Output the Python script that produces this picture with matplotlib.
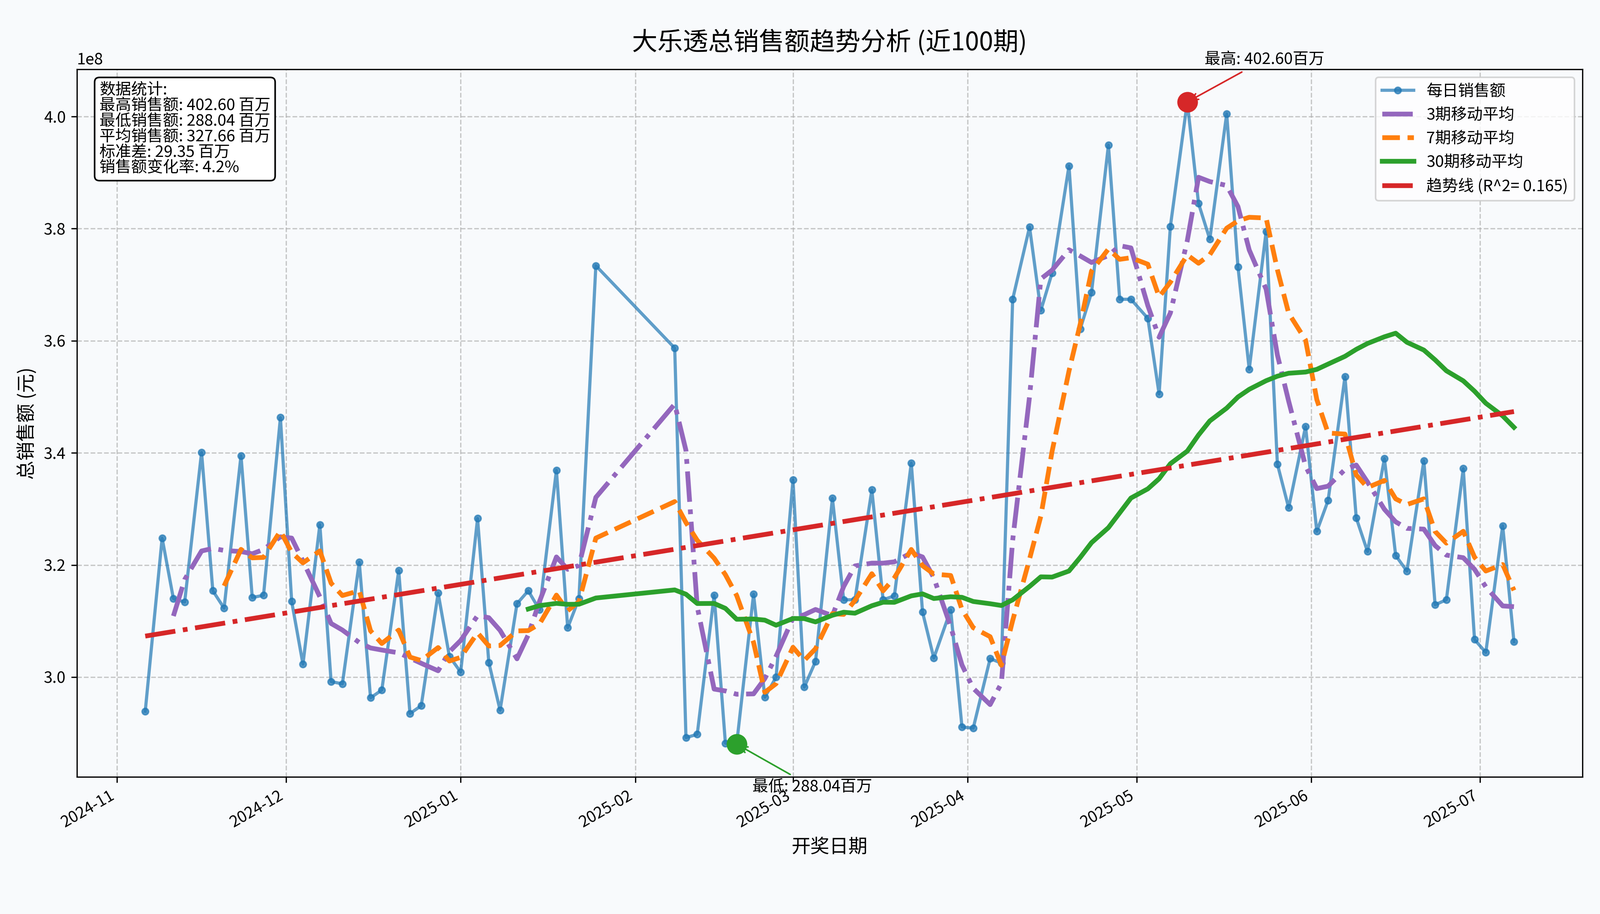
import matplotlib
matplotlib.use("Agg")
import matplotlib.pyplot as plt
import matplotlib.dates as mdates
import numpy as np
import pandas as pd

plt.rcParams['font.family'] = ['Noto Sans CJK SC', 'DejaVu Sans']
plt.rcParams['axes.unicode_minus'] = False

# Draw dates: Mon/Wed/Sat, Spring Festival break removed
all_days = pd.date_range('2024-11-06', '2025-07-07', freq='D')
dates = [d for d in all_days if d.weekday() in (0, 2, 5)
         and not (pd.Timestamp('2025-01-26') <= d <= pd.Timestamp('2025-02-07'))]

sales_1e8 = [2.939, 3.248, 3.140, 3.134, 3.401, 3.154, 3.123, 3.395, 3.142, 3.146,
             3.463, 3.135, 3.023, 3.272, 2.992, 2.988, 3.205, 2.963, 2.977, 3.190,
             2.935, 2.949, 3.150, 3.037, 3.009, 3.283, 3.026, 2.941, 3.131, 3.154,
             3.120, 3.369, 3.088, 3.140, 3.734, 3.587, 2.892, 2.898, 3.146, 2.882,
             2.8804, 3.148, 2.964, 3.000, 3.352, 2.982, 3.028, 3.319, 3.138, 3.138,
             3.334, 3.138, 3.145, 3.382, 3.116, 3.034, 3.120, 2.911, 2.909, 3.033,
             3.025, 3.674, 3.803, 3.654, 3.721, 3.912, 3.621, 3.686, 3.949, 3.674,
             3.674, 3.640, 3.505, 3.804, 4.026, 3.845, 3.781, 4.005, 3.732, 3.549,
             3.795, 3.380, 3.302, 3.447, 3.260, 3.315, 3.536, 3.284, 3.224, 3.390,
             3.217, 3.189, 3.386, 3.129, 3.138, 3.372, 3.067, 3.044, 3.270, 3.063]

s = pd.Series(np.array(sales_1e8) * 1e8, index=pd.DatetimeIndex(dates))
ma3 = s.rolling(3).mean()
ma7 = s.rolling(7).mean()
ma30 = s.rolling(30).mean()

xnum = mdates.date2num(s.index)
coef = np.polyfit(xnum, s.values, 1)
fit = np.polyval(coef, xnum)
r2 = 1 - np.sum((s.values - fit) ** 2) / np.sum((s.values - s.values.mean()) ** 2)

bg = '#f8fafc'
fig = plt.figure(figsize=(14, 8), dpi=300, facecolor=bg)
ax = fig.add_axes([0.048, 0.150, 0.941, 0.774])
ax.set_facecolor(bg)

ax.plot(s.index, s.values, '-o', color='#1f77b4', alpha=0.7, lw=2, ms=4, label='每日销售额')
ax.plot(s.index, ma3, '-.', color='#9467bd', lw=3, label='3期移动平均')
ax.plot(s.index, ma7, '--', color='#ff7f0e', lw=3, label='7期移动平均')
ax.plot(s.index, ma30, '-', color='#2ca02c', lw=3, label='30期移动平均')
ax.plot(s.index, fit, '-.', color='#d62728', lw=3, label=f'趋势线 (R^2= {r2:.3f})')

imax, imin = s.values.argmax(), s.values.argmin()
ax.plot(s.index[imax], s.values[imax], 'o', color='#d62728', ms=12)
ax.plot(s.index[imin], s.values[imin], 'o', color='#2ca02c', ms=12)
ax.annotate(f'最高: {s.values[imax]/1e6:.2f}百万', xy=(s.index[imax], s.values[imax]),
            xytext=(11, 24), textcoords='offset points', fontsize=10,
            arrowprops=dict(arrowstyle='->', color='#d62728'))
ax.annotate(f'最低: {s.values[imin]/1e6:.2f}百万', xy=(s.index[imin], s.values[imin]),
            xytext=(10, -27), textcoords='offset points', fontsize=10, va='center',
            arrowprops=dict(arrowstyle='->', color='#2ca02c'))

stats = (f'数据统计:\n最高销售额: {s.max()/1e6:.2f} 百万\n最低销售额: {s.min()/1e6:.2f} 百万\n'
         f'平均销售额: {s.mean()/1e6:.2f} 百万\n标准差: {s.std()/1e6:.2f} 百万\n'
         f'销售额变化率: {(s.values[-1]/s.values[0]-1)*100:.1f}%')
ax.text(0.015, 0.982, stats, transform=ax.transAxes, va='top', fontsize=10, linespacing=1.0,
        bbox=dict(boxstyle='round,pad=0.3', facecolor='white', edgecolor='black'))

ax.set_ylim(2.822e8, 4.084e8)
ax.grid(True, linestyle='--', alpha=0.7)
ax.xaxis.set_major_locator(mdates.MonthLocator())
ax.xaxis.set_major_formatter(mdates.DateFormatter('%Y-%m'))
plt.setp(ax.get_xticklabels(), rotation=30, ha='right')
ax.set_xlabel('开奖日期', fontsize=12)
ax.set_ylabel('总销售额 (元)', fontsize=12)
ax.set_title('大乐透总销售额趋势分析 (近100期)', fontsize=16, pad=12)
ax.legend(loc='upper right', fontsize=10)

fig.savefig('out.png', dpi=300, facecolor=bg)
